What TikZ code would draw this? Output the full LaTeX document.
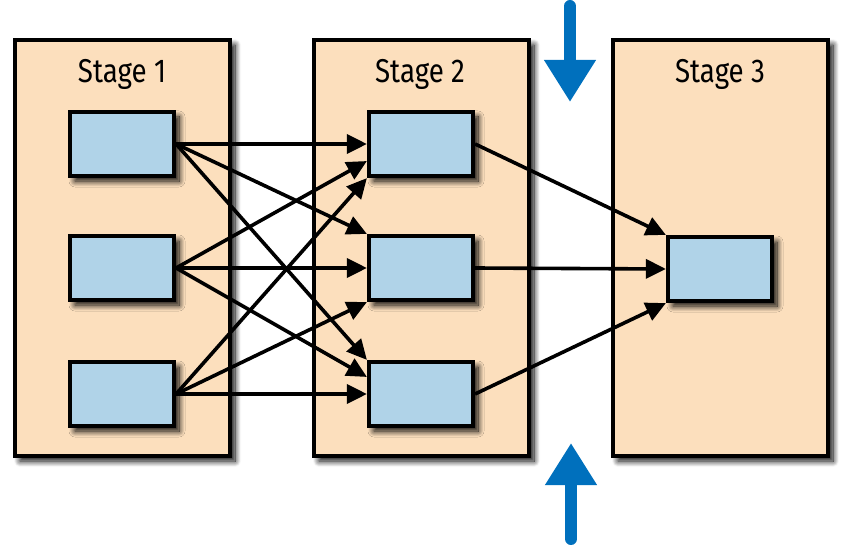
\documentclass[tikz,border=0pt]{standalone}
\usepackage{fontspec}
\setmainfont{Fira Sans}
\usetikzlibrary{arrows.meta,shadows.blur}
\definecolor{peach}{HTML}{FCDFBD}
\definecolor{lblue}{HTML}{B0D3E8}
\definecolor{dblue}{HTML}{0070BD}
\tikzset{
  myshadow/.style={blur shadow={shadow xshift=5pt,shadow yshift=-5pt,shadow blur radius=6pt,shadow opacity=100,shadow blur steps=12}},
  stagebox/.style={draw=black,line width=4.2pt,fill=peach,minimum width=215pt,minimum height=416pt,myshadow},
  taskbox/.style={draw=black,line width=4.2pt,fill=lblue,minimum width=104pt,minimum height=64pt,myshadow},
  flow/.style={line width=3.6pt,-{Triangle[length=20pt,width=19pt]}},
  bigarrow/.style={draw=dblue,line width=12pt,line cap=round,-{Triangle[length=42pt,width=49pt]}},
  stagelabel/.style={anchor=base,font=\fontsize{33}{36}\selectfont,inner sep=0pt}
}
\newcommand{\stagetext}[1]{\scalebox{0.84}[1]{#1}}
\begin{document}
\begin{tikzpicture}[x=1pt,y=-1pt]
\useasboundingbox (0,0) rectangle (854,545);
% stage boxes
\node[stagebox] (s1) at (122.5,248) {};
\node[stagebox] (s2) at (421.5,248) {};
\node[stagebox] (s3) at (720.5,248) {};
\node[stagelabel] (l1) at (122,83) {\stagetext{Stage 1}};
\node[stagelabel] (l2) at (420,83) {\stagetext{Stage 2}};
\node[stagelabel] (l3) at (720,83) {\stagetext{Stage 3}};
% task boxes
\node[taskbox] (a1) at (122,144) {};
\node[taskbox] (a2) at (122,268) {};
\node[taskbox] (a3) at (122,394) {};
\node[taskbox] (b1) at (421,144) {};
\node[taskbox] (b2) at (421,268) {};
\node[taskbox] (b3) at (421,394) {};
\node[taskbox] (c1) at (720,269) {};
% helper points on stage-2 boxes
\coordinate (b1m) at ($(b1.west)!0.5!(b1.south west)$);
\coordinate (b3m) at ($(b3.west)!0.5!(b3.north west)$);
% stage 1 -> stage 2
\draw[flow] (a1.east) -- (b1.west);
\draw[flow] (a1.east) -- (b2.north west);
\draw[flow] (a1.east) -- (b3.north west);
\draw[flow] (a2.east) -- (b1m);
\draw[flow] (a2.east) -- (b2.west);
\draw[flow] (a2.east) -- (b3m);
\draw[flow] (a3.east) -- (b1.south west);
\draw[flow] (a3.east) -- (b2.south west);
\draw[flow] (a3.east) -- (b3.west);
% stage 2 -> stage 3
\draw[flow] (b1.east) -- (c1.north west);
\draw[flow] (b2.east) -- (c1.west);
\draw[flow] (b3.east) -- (c1.south west);
% blue arrows
\coordinate (t0) at (570,6);
\coordinate (t1) at (570,102);
\coordinate (u0) at (571,539);
\coordinate (u1) at (571,443);
\draw[bigarrow] (t0) -- (t1);
\draw[bigarrow] (u0) -- (u1);
\end{tikzpicture}
\end{document}
